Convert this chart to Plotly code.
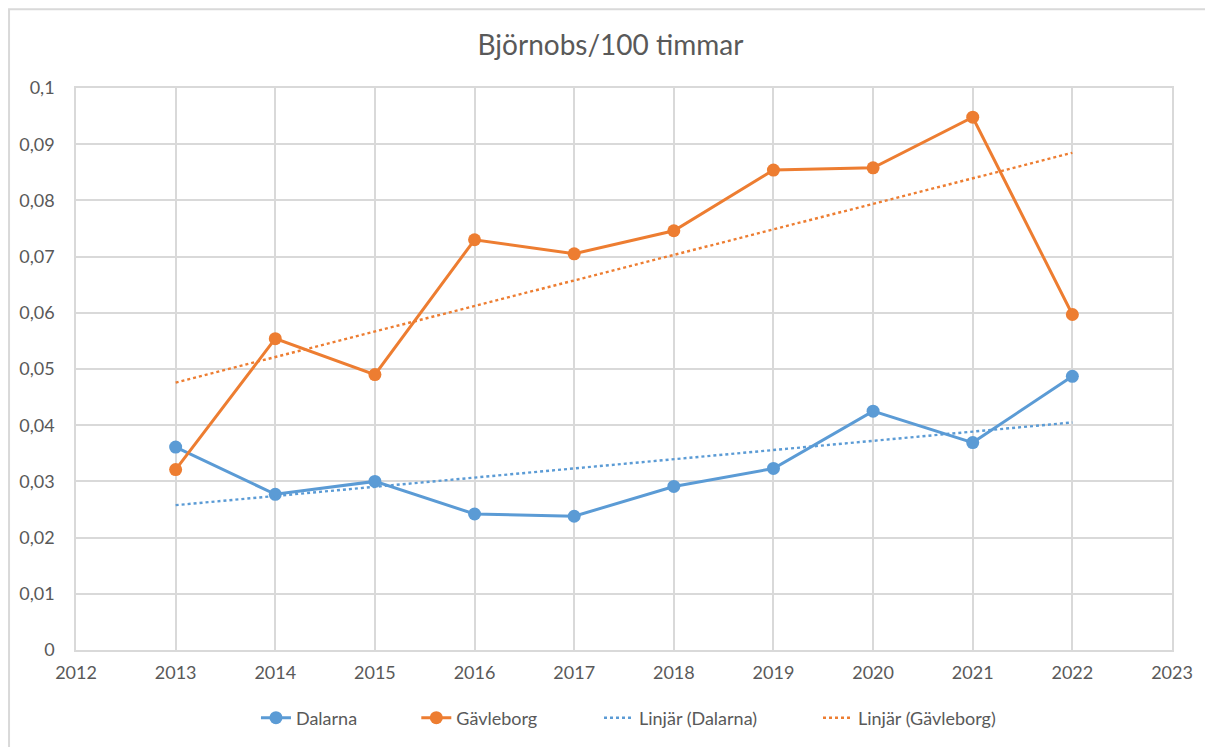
import numpy as np
import plotly.graph_objects as go

years = [2013, 2014, 2015, 2016, 2017, 2018, 2019, 2020, 2021, 2022]
dalarna = [0.0361, 0.0277, 0.0300, 0.0242, 0.0238, 0.0291, 0.0323, 0.0425, 0.0369, 0.0487]
gavleborg = [0.0321, 0.0554, 0.0490, 0.0730, 0.0705, 0.0746, 0.0854, 0.0858, 0.0948, 0.0597]

BLUE = "#5B9BD5"
ORANGE = "#ED7D31"
GRID = "#D9D9D9"
TXT = "#595959"
FONT = "Lato, 'Open Sans', sans-serif"

def trend(x, y):
    k, m = np.polyfit(x, y, 1)
    return [k * xi + m for xi in x]

fig = go.Figure()
fig.add_trace(go.Scatter(x=years, y=dalarna, name="Dalarna", mode="lines+markers", legend="legend",
                         line=dict(color=BLUE, width=3), marker=dict(color=BLUE, size=13)))
fig.add_trace(go.Scatter(x=years, y=gavleborg, name="Gävleborg", mode="lines+markers", legend="legend2",
                         line=dict(color=ORANGE, width=3), marker=dict(color=ORANGE, size=13)))
fig.add_trace(go.Scatter(x=years, y=trend(years, dalarna), name="Linjär (Dalarna)", mode="lines",
                         legend="legend3", line=dict(color=BLUE, width=2.4, dash="dot")))
fig.add_trace(go.Scatter(x=years, y=trend(years, gavleborg), name="Linjär (Gävleborg)", mode="lines",
                         legend="legend4", line=dict(color=ORANGE, width=2.4, dash="dot")))

def leg(x):
    return dict(orientation="h", x=x, xanchor="left", y=-0.119, yanchor="middle",
                font=dict(family=FONT, size=18, color=TXT), bgcolor="rgba(0,0,0,0)")

fig.update_layout(
    width=1205, height=739,
    margin=dict(l=68, r=41, t=80, b=96),
    paper_bgcolor="white", plot_bgcolor="white",
    separators=", ",
    font=dict(family=FONT, color=TXT, size=18),
    title=dict(text="Björnobs/100 timmar", x=0.5, xanchor="center", y=0.95, yanchor="middle",
               font=dict(family=FONT, size=28, color=TXT)),
    showlegend=True,
    legend=leg(0.1642), legend2=leg(0.3105), legend3=leg(0.4772), legend4=leg(0.6770),
    xaxis=dict(range=[2012, 2023], dtick=1, tick0=2012, showgrid=True, gridcolor=GRID, gridwidth=1.5,
               showline=True, linecolor=GRID, linewidth=1.5, mirror=True, zeroline=False,
               ticks="", tickfont=dict(size=18, color=TXT), ticklabelstandoff=6),
    yaxis=dict(range=[0, 0.1], dtick=0.01, tick0=0, showgrid=True, gridcolor=GRID, gridwidth=1.5,
               showline=True, linecolor=GRID, linewidth=1.5, mirror=True, zeroline=False,
               ticks="", tickfont=dict(size=18, color=TXT), ticklabelstandoff=16),
    shapes=[dict(type="rect", xref="paper", yref="paper", x0=-0.0611, x1=1.2, y0=-0.3, y1=1.140,
                 line=dict(color=GRID, width=2), fillcolor="rgba(0,0,0,0)", layer="below")],
)

fig.write_html("out.html")
